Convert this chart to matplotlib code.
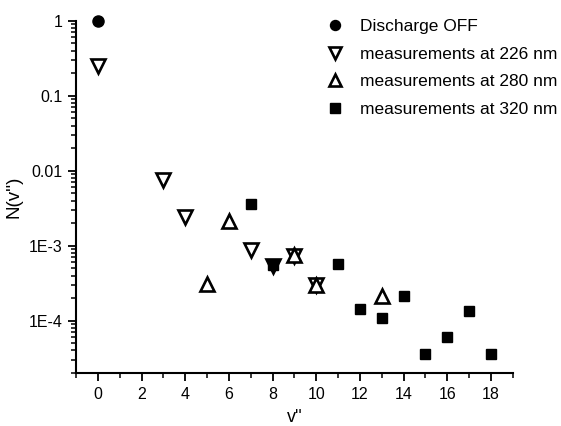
import matplotlib
matplotlib.use("Agg")
import matplotlib.pyplot as plt
from matplotlib.ticker import LogLocator, FixedLocator, NullFormatter, FuncFormatter

plt.rcParams['font.family'] = ['Liberation Sans', 'DejaVu Sans']

# Data
off_x = [0]
off_y = [1.0]

m226_x = [0, 3, 4, 7, 8, 9, 10]
m226_y = [0.25, 0.0075, 0.0024, 8.8e-4, 5.3e-4, 7.2e-4, 2.95e-4]

m280_x = [5, 6, 9, 10, 13]
m280_y = [3.1e-4, 2.15e-3, 7.4e-4, 3.0e-4, 2.15e-4]

m320_x = [7, 8, 11, 12, 13, 14, 15, 16, 17, 18]
m320_y = [3.6e-3, 5.5e-4, 5.7e-4, 1.41e-4, 1.07e-4, 2.14e-4, 3.55e-5, 6.1e-5, 1.35e-4, 3.55e-5]

x_major = [0, 2, 4, 6, 8, 10, 12, 14, 16, 18]
y_major = [1, 0.1, 0.01, 1e-3, 1e-4]
y_labels = ['1', '0.1', '0.01', '1E-3', '1E-4']

fig = plt.figure(figsize=(5.61, 4.26), dpi=100)
ax = fig.add_axes([0.1355, 0.1244, 0.914 - 0.1355, 0.951 - 0.1244])

ax.plot(off_x, off_y, 'o', color='black', markersize=8, linestyle='none', label='Discharge OFF', clip_on=False)
ax.plot(m226_x, m226_y, 'v', markerfacecolor='white', markeredgecolor='black', markeredgewidth=1.9,
        markersize=9.5, linestyle='none', label='measurements at 226 nm', clip_on=False)
ax.plot(m280_x, m280_y, '^', markerfacecolor='white', markeredgecolor='black', markeredgewidth=1.9,
        markersize=9.5, linestyle='none', label='measurements at 280 nm', clip_on=False)
ax.plot(m320_x, m320_y, 's', color='black', markersize=7.5, linestyle='none', label='measurements at 320 nm',
        clip_on=False)

ax.set_yscale('log')
ax.set_xlim(-1, 19)
ax.set_ylim(2e-5, 1)

ax.xaxis.set_major_locator(FixedLocator(x_major))
ax.xaxis.set_minor_locator(FixedLocator([-1, 1, 3, 5, 7, 9, 11, 13, 15, 17, 19]))
ax.yaxis.set_major_locator(FixedLocator(y_major))
ax.yaxis.set_major_formatter(FuncFormatter(lambda v, p: y_labels[y_major.index(v)] if v in y_major else ''))
ax.yaxis.set_minor_locator(LogLocator(base=10, subs=range(2, 10), numticks=20))
ax.yaxis.set_minor_formatter(NullFormatter())

for s in ['top', 'right']:
    ax.spines[s].set_visible(False)
for s in ['left', 'bottom']:
    ax.spines[s].set_linewidth(1.5)

ax.tick_params(axis='both', which='major', direction='out', length=6, width=1.3, labelsize=11.5, pad=4)
ax.tick_params(axis='both', which='minor', direction='out', length=3.5, width=1.1)

ax.set_xlabel("v''", fontsize=13, labelpad=5)
ax.set_ylabel("N(v'')", fontsize=13.5, labelpad=4)

ax.legend(loc='upper left', bbox_to_anchor=(0.542, 1.025), frameon=False, fontsize=12.5,
          handletextpad=0.5, labelspacing=0.72, borderaxespad=0, handlelength=1.8, markerscale=0.9)

fig.savefig('out.png', dpi=100)
